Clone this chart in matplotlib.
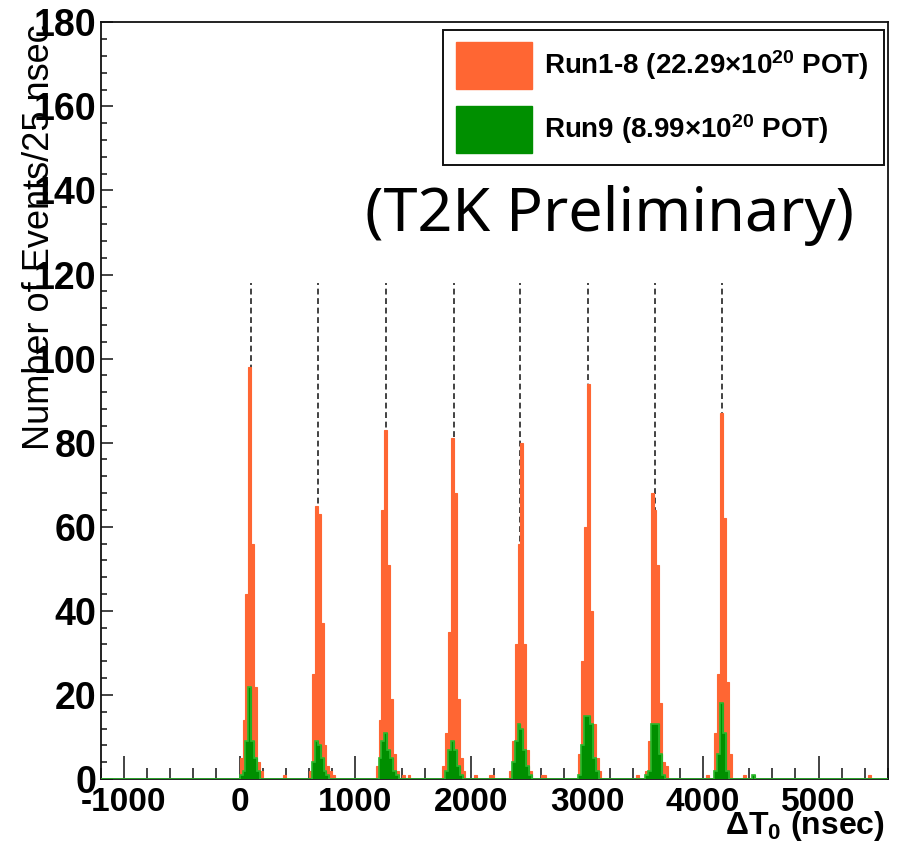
import numpy as np
import matplotlib
matplotlib.use("Agg")
import matplotlib.pyplot as plt
from matplotlib.patches import Patch
from matplotlib.ticker import MultipleLocator

plt.rcParams['font.family'] = ['Liberation Sans', 'DejaVu Sans']
plt.rcParams['mathtext.fontset'] = 'custom'
plt.rcParams['mathtext.rm'] = 'Liberation Sans:bold'
plt.rcParams['mathtext.it'] = 'Liberation Sans:bold'
plt.rcParams['mathtext.bf'] = 'Liberation Sans:bold'
plt.rcParams['mathtext.default'] = 'rm'
plt.rcParams['axes.unicode_minus'] = False

# ---------------- data ----------------
bin_width = 25          # ns
x_min, x_max = -1200, 5600
y_max = 180

# fitted bunch centres (dashed lines) and the top of the dashed lines
bunch_center_ns = [101, 675, 1263, 1848, 2422, 3008, 3584, 4167]
dash_top = 118

# Run1-8: first bin edge of each bunch and counts per 25 ns bin
run18_bunch_start = [0, 600, 1175, 1750, 2325, 2925, 3500, 4100]
run18_bunch_counts = [
    [5, 14, 44, 98, 56, 22, 4, 2],
    [2, 25, 65, 63, 37, 8, 3, 2],
    [3, 14, 64, 83, 51, 19, 6, 2],
    [3, 11, 35, 81, 68, 19, 5, 2],
    [2, 9, 32, 56, 80, 32, 7, 2],
    [6, 28, 60, 94, 40, 13, 5, 2],
    [2, 9, 68, 64, 51, 18, 4, 3],
    [11, 25, 87, 62, 23, 6],
]
run18_isolated_ns = [375, 800, 1400, 1450, 2025, 2150, 2175, 2600, 2625, 3425, 4025, 4350, 5425]
run18_isolated_counts = [1, 1, 1, 1, 1, 1, 1, 1, 1, 1, 1, 1, 1]

# Run9
run9_bunch_start = [0, 600, 1175, 1750, 2325, 2925, 3500, 4100]
run9_bunch_counts = [
    [1, 2, 9, 22, 9, 5, 2],
    [0, 4, 9, 8, 5, 2, 1],
    [0, 5, 9, 11, 7, 5, 2, 1],
    [0, 2, 7, 9, 7, 3, 1],
    [0, 4, 9, 13, 12, 7, 3, 1],
    [1, 8, 15, 15, 13, 5, 2],
    [1, 2, 13, 13, 13, 6, 1],
    [2, 6, 18, 11, 2],
]
run9_isolated_ns = [4425]
run9_isolated_counts = [1]

x_major = [-1000, 0, 1000, 2000, 3000, 4000, 5000]
y_major = list(range(0, 181, 20))

label_run18 = r"Run1-8 (22.29$\times$10$^{20}$ POT)"
label_run9 = r"Run9 (8.99$\times$10$^{20}$ POT)"

# ---------------- build histograms ----------------
edges = np.arange(x_min, x_max + bin_width, bin_width)
nbins = len(edges) - 1


def build(starts, blocks, iso_ns, iso_counts):
    h = np.zeros(nbins)
    for s, vals in zip(starts, blocks):
        i0 = int((s - x_min) // bin_width)
        h[i0:i0 + len(vals)] += np.array(vals, dtype=float)
    for s, c in zip(iso_ns, iso_counts):
        h[int((s - x_min) // bin_width)] += c
    return h


h18 = build(run18_bunch_start, run18_bunch_counts, run18_isolated_ns, run18_isolated_counts)
h9 = build(run9_bunch_start, run9_bunch_counts, run9_isolated_ns, run9_isolated_counts)

orange = '#FF6633'
green = '#008F00'
green_line = '#2DB82D'

# ---------------- figure ----------------
fig = plt.figure(figsize=(9.05, 8.59), dpi=100)
ax = fig.add_axes([0.1113, 0.0931, 0.8699, 0.8810])

ax.vlines(bunch_center_ns, 0, dash_top, colors='#222222', linestyles=(0, (3.5, 2.2)),
          linewidth=1.2, zorder=1)
ax.bar(edges[:-1], h18, width=bin_width, align='edge', color=orange,
       edgecolor=orange, linewidth=0.8, zorder=2)
ax.bar(edges[:-1], h9, width=bin_width, align='edge', color=green,
       edgecolor=green, linewidth=0.8, zorder=3)
ax.stairs(h9, edges, color=green_line, linewidth=1.2, zorder=4)

ax.set_xlim(x_min, x_max)
ax.set_ylim(0, y_max)

ax.set_xticks(x_major)
ax.set_yticks(y_major)
ax.xaxis.set_minor_locator(MultipleLocator(200))
ax.yaxis.set_minor_locator(MultipleLocator(4))

ax.tick_params(axis='both', which='both', direction='in', top=False, right=False,
               width=1.1, color='#111111')
ax.tick_params(axis='x', which='major', length=16.5, pad=6, labelsize=24)
ax.tick_params(axis='x', which='minor', length=8)
ax.tick_params(axis='y', which='major', length=8.6, pad=3, labelsize=27)
ax.tick_params(axis='y', which='minor', length=4.3)
for lab in ax.get_xticklabels() + ax.get_yticklabels():
    lab.set_fontweight('bold')

for sp in ax.spines.values():
    sp.set_linewidth(1.3)
    sp.set_color('#111111')

ax.set_ylabel("Number of Events/25 nsec", fontsize=26, fontfamily='Liberation Sans')
ax.yaxis.set_label_coords(-0.056, 0.716)

ax.set_xlabel(r"$\Delta$T$_0$ (nsec)", fontsize=23, fontweight='bold', loc='right')
ax.xaxis.set_label_coords(0.996, -0.040)
ax.xaxis.label.set_verticalalignment('top')

handles = [Patch(facecolor=orange, edgecolor=orange), Patch(facecolor=green, edgecolor=green)]
leg = ax.legend(handles, [label_run18, label_run9], loc='upper left',
                bbox_to_anchor=(0.4348, 0.9898, 0.560, 0.0), mode='expand',
                prop={'family': 'Liberation Sans', 'weight': 'bold', 'size': 20},
                handlelength=2.77, handleheight=2.2, labelspacing=0.62,
                handletextpad=0.4, borderpad=0.45, borderaxespad=0.0,
                fancybox=False, framealpha=1.0, edgecolor='#111111')
leg.get_frame().set_linewidth(1.4)

fig.text(610 / 905, 1 - 216 / 859, "(T2K Preliminary)", fontsize=44,
         fontfamily='Noto Sans', ha='center', va='center')

fig.savefig("out.png", dpi=100)
